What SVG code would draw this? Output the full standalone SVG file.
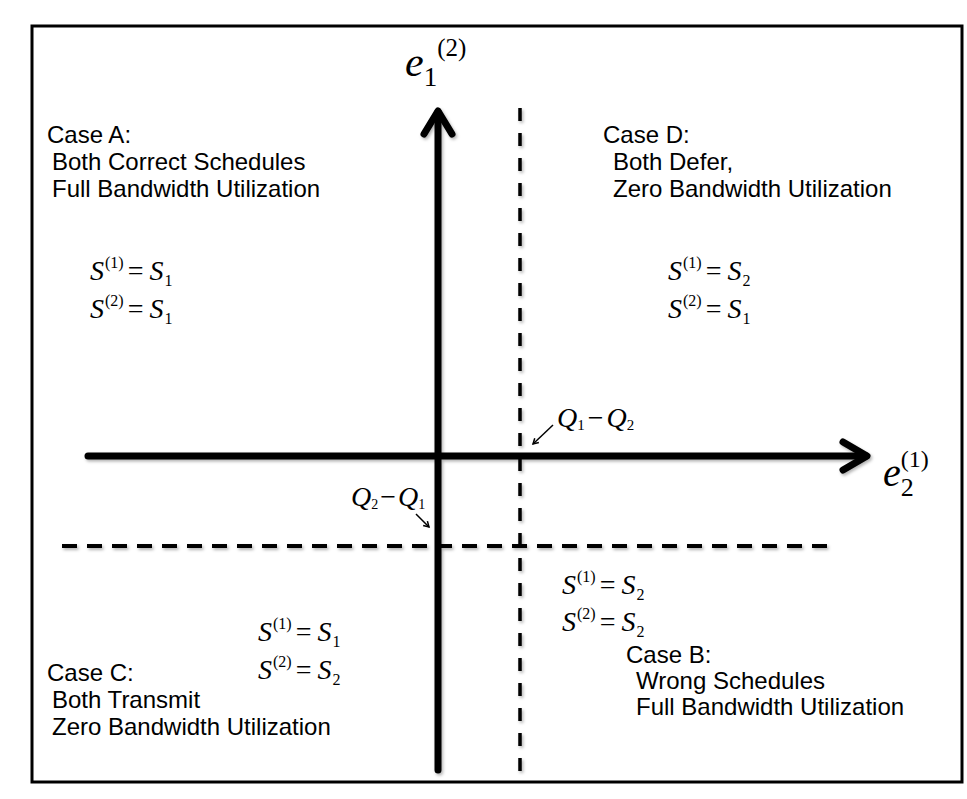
<svg xmlns="http://www.w3.org/2000/svg" width="967" height="799" viewBox="0 0 967 799">
<defs>
<filter id="sh" x="-5%" y="-5%" width="110%" height="110%">
<feDropShadow dx="1.5" dy="2" stdDeviation="1.5" flood-color="#000" flood-opacity="0.3"/>
</filter>
<marker id="ah" viewBox="0 0 10 10" refX="8" refY="5" markerWidth="5" markerHeight="5" orient="auto">
<path d="M1,1 L8,5 L1,9" fill="none" stroke="#000" stroke-width="2"/>
</marker>
</defs>
<style>
.lbl{font-family:"Liberation Sans",Arial,sans-serif;font-size:24px;fill:#000}
.m{font-family:"Liberation Serif","Times New Roman",serif;font-size:28px;fill:#000}
.mi{font-style:italic}
.sc{font-size:16px}
.ax{stroke:#000;stroke-width:7;fill:none;stroke-linecap:round;stroke-linejoin:round}
.dv{stroke:#000;stroke-width:3.5;fill:none;stroke-dasharray:13 12}
.dh{stroke:#000;stroke-width:4;fill:none;stroke-dasharray:15 10}
.thin{stroke:#000;stroke-width:1.5;fill:none}
</style>
<rect x="32" y="26" width="930" height="756" fill="#fff" stroke="#000" stroke-width="3"/>
<g id="connectors">
<g filter="url(#sh)">
<line class="ax" x1="438" y1="770" x2="438" y2="112"/>
<polyline class="ax" points="424,134 438,111 452,134"/>
<line class="ax" x1="88" y1="456" x2="866" y2="456"/>
<polyline class="ax" points="843,442 867,456 843,470"/>
<line class="dv" x1="520" y1="108" x2="520" y2="776"/>
<line class="dh" x1="62" y1="546" x2="837" y2="546"/>
</g>
<line class="thin" x1="553" y1="425" x2="533" y2="444" marker-end="url(#ah)"/>
<line class="thin" x1="416" y1="514" x2="429" y2="527" marker-end="url(#ah)"/>
</g>
<g id="axis-y-label">
<text class="m" x="405" y="76"><tspan class="mi" font-size="42">e</tspan><tspan font-size="27" dy="10">1</tspan><tspan font-size="25" dy="-30">(2)</tspan></text>
</g>
<g id="axis-x-label">
<text class="m" x="883" y="486"><tspan class="mi" font-size="40">e</tspan><tspan font-size="26" dy="10">2</tspan><tspan font-size="24" dx="-13" dy="-29">(1)</tspan></text>
</g>
<g id="q12-label">
<text class="m" x="557" y="427" font-size="24"><tspan class="mi">Q</tspan><tspan font-size="15" dy="3">1</tspan><tspan dx="3" dy="-3">−</tspan><tspan class="mi" dx="3">Q</tspan><tspan font-size="15" dy="3">2</tspan></text>
</g>
<g id="q21-label">
<text class="m" x="351" y="506" font-size="23"><tspan class="mi">Q</tspan><tspan font-size="14" dy="3">2</tspan><tspan dx="2" dy="-3">−</tspan><tspan class="mi" dx="2">Q</tspan><tspan font-size="14" dy="3">1</tspan></text>
</g>
<g id="case-a">
<text class="lbl" x="47" y="143">Case A:</text>
<text class="lbl" x="52" y="170">Both Correct Schedules</text>
<text class="lbl" x="52" y="197">Full Bandwidth Utilization</text>
<text class="m" x="90" y="280"><tspan class="mi">S</tspan><tspan class="sc" dx="1" dy="-12">(1)</tspan><tspan dx="4" dy="12">=</tspan><tspan class="mi" dx="6">S</tspan><tspan class="sc" dx="1" dy="6">1</tspan></text>
<text class="m" x="90" y="318"><tspan class="mi">S</tspan><tspan class="sc" dx="1" dy="-12">(2)</tspan><tspan dx="4" dy="12">=</tspan><tspan class="mi" dx="6">S</tspan><tspan class="sc" dx="1" dy="6">1</tspan></text>
</g>
<g id="case-d">
<text class="lbl" x="603" y="143">Case D:</text>
<text class="lbl" x="613" y="170">Both Defer,</text>
<text class="lbl" x="613" y="197">Zero Bandwidth Utilization</text>
<text class="m" x="668" y="280"><tspan class="mi">S</tspan><tspan class="sc" dx="1" dy="-12">(1)</tspan><tspan dx="4" dy="12">=</tspan><tspan class="mi" dx="6">S</tspan><tspan class="sc" dx="1" dy="6">2</tspan></text>
<text class="m" x="668" y="318"><tspan class="mi">S</tspan><tspan class="sc" dx="1" dy="-12">(2)</tspan><tspan dx="4" dy="12">=</tspan><tspan class="mi" dx="6">S</tspan><tspan class="sc" dx="1" dy="6">1</tspan></text>
</g>
<g id="case-c">
<text class="m" x="258" y="641"><tspan class="mi">S</tspan><tspan class="sc" dx="1" dy="-12">(1)</tspan><tspan dx="4" dy="12">=</tspan><tspan class="mi" dx="6">S</tspan><tspan class="sc" dx="1" dy="6">1</tspan></text>
<text class="m" x="258" y="679"><tspan class="mi">S</tspan><tspan class="sc" dx="1" dy="-12">(2)</tspan><tspan dx="4" dy="12">=</tspan><tspan class="mi" dx="6">S</tspan><tspan class="sc" dx="1" dy="6">2</tspan></text>
<text class="lbl" x="47" y="681">Case C:</text>
<text class="lbl" x="52" y="708">Both Transmit</text>
<text class="lbl" x="52" y="735">Zero Bandwidth Utilization</text>
</g>
<g id="case-b">
<text class="m" x="562" y="594"><tspan class="mi">S</tspan><tspan class="sc" dx="1" dy="-12">(1)</tspan><tspan dx="4" dy="12">=</tspan><tspan class="mi" dx="6">S</tspan><tspan class="sc" dx="1" dy="6">2</tspan></text>
<text class="m" x="562" y="631"><tspan class="mi">S</tspan><tspan class="sc" dx="1" dy="-12">(2)</tspan><tspan dx="4" dy="12">=</tspan><tspan class="mi" dx="6">S</tspan><tspan class="sc" dx="1" dy="6">2</tspan></text>
<text class="lbl" x="626" y="663">Case B:</text>
<text class="lbl" x="636" y="689">Wrong Schedules</text>
<text class="lbl" x="636" y="715">Full Bandwidth Utilization</text>
</g>
</svg>
